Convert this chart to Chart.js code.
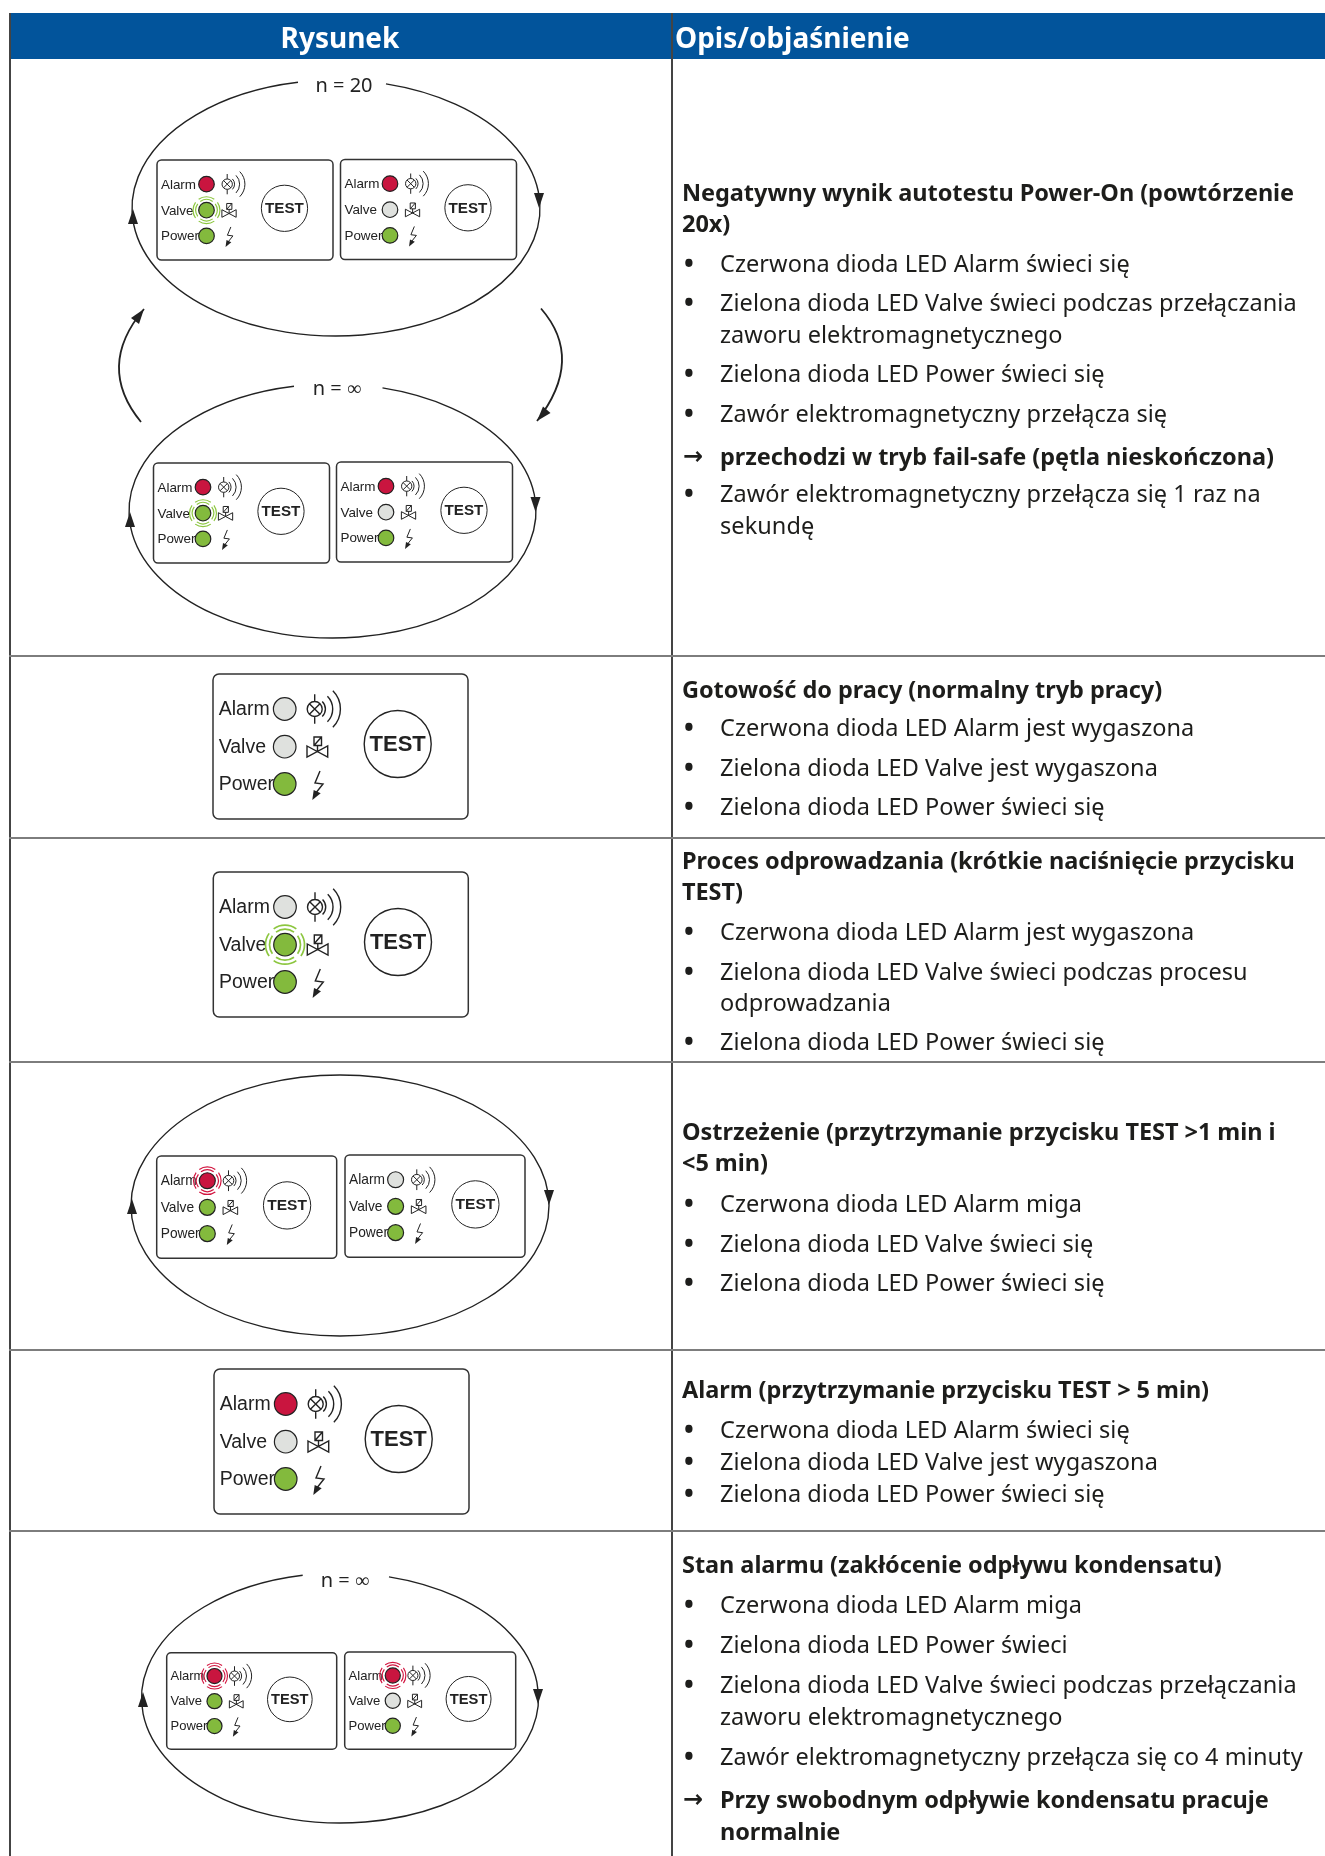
<!DOCTYPE html>
<html lang="pl">
<head>
<meta charset="utf-8">
<title>Rysunek - Opis</title>
<script src="https://cdn.jsdelivr.net/npm/chart.js@4"></script>
<style>
  html, body { margin: 0; padding: 0; background: #fff; }
  #page { position: relative; width: 1325px; height: 1856px; overflow: hidden; font-family: "Noto Sans", sans-serif; color: #1d1d1b; }
  #page canvas { position: absolute; left: 0; top: 0; }
  .bar { position: absolute; left: 9px; top: 13px; width: 1316px; height: 46px; background: #02549b; }
  .head { position: absolute; top: 15px; line-height: 44px; font-size: 28px; font-weight: 700; color: #fff; white-space: nowrap; }
  .rule { position: absolute; left: 9px; width: 1316px; height: 2px; background: #7d7d7d; }
  .vline { position: absolute; top: 13px; width: 1.5px; height: 1843px; background: #444; }
  .line { position: absolute; left: 720px; white-space: nowrap; font-size: 23.5px; line-height: 32px; letter-spacing: 0.06px; }
  .line.title { left: 682px; font-weight: 700; letter-spacing: -0.05px; }
  .line.arrow { font-weight: 700; letter-spacing: -0.05px; }
  .mark { position: absolute; left: 684px; line-height: 32px; font-size: 26px; font-weight: 700; }
  .mark.go { left: 683px; font-family: "DejaVu Sans", sans-serif; font-size: 24px; }
</style>
</head>
<body>
<div id="page">
  <div class="bar"></div>
  <div class="vline" style="left:9px"></div>
  <div class="vline" style="left:671px"></div>
  <canvas id="chart" width="1325" height="1856"></canvas>
</div>
<script>
// dane: naglowki, diody, stany paneli, opisy
var headers = ['Rysunek', 'Opis/objaśnienie'];
var ledNames = ['Alarm', 'Valve', 'Power'];
var buttonLabel = 'TEST';
var loopLabels = ['n = 20', 'n = ∞', 'n = ∞'];
var panelStates = [
  ['on', 'blink', 'on'], ['on', 'off', 'on'],
  ['on', 'blink', 'on'], ['on', 'off', 'on'],
  ['off', 'off', 'on'],
  ['off', 'blink', 'on'],
  ['blink', 'on', 'on'], ['off', 'on', 'on'],
  ['on', 'off', 'on'],
  ['blink', 'on', 'on'], ['blink', 'off', 'on']
];
var descTitles = [
  'Negatywny wynik autotestu Power-On (powtórzenie', '20x)',
  'Gotowość do pracy (normalny tryb pracy)',
  'Proces odprowadzania (krótkie naciśnięcie przycisku', 'TEST)',
  'Ostrzeżenie (przytrzymanie przycisku TEST >1 min i', '<5 min)',
  'Alarm (przytrzymanie przycisku TEST > 5 min)',
  'Stan alarmu (zakłócenie odpływu kondensatu)'
];
var descBullets = [
  'Czerwona dioda LED Alarm świeci się',
  'Zielona dioda LED Valve świeci podczas przełączania', 'zaworu elektromagnetycznego',
  'Zielona dioda LED Power świeci się',
  'Zawór elektromagnetyczny przełącza się',
  'Zawór elektromagnetyczny przełącza się 1 raz na', 'sekundę',
  'Czerwona dioda LED Alarm jest wygaszona',
  'Zielona dioda LED Valve jest wygaszona',
  'Zielona dioda LED Power świeci się',
  'Czerwona dioda LED Alarm jest wygaszona',
  'Zielona dioda LED Valve świeci podczas procesu', 'odprowadzania',
  'Zielona dioda LED Power świeci się',
  'Czerwona dioda LED Alarm miga',
  'Zielona dioda LED Valve świeci się',
  'Zielona dioda LED Power świeci się',
  'Czerwona dioda LED Alarm świeci się',
  'Zielona dioda LED Valve jest wygaszona',
  'Zielona dioda LED Power świeci się',
  'Czerwona dioda LED Alarm miga',
  'Zielona dioda LED Power świeci',
  'Zielona dioda LED Valve świeci podczas przełączania', 'zaworu elektromagnetycznego',
  'Zawór elektromagnetyczny przełącza się co 4 minuty'
];
var descArrows = [
  'przechodzi w tryb fail-safe (pętla nieskończona)',
  'Przy swobodnym odpływie kondensatu pracuje', 'normalnie'
];

// uklad strony
var titleMiddles = [192, 223, 689, 860, 891, 1131, 1162, 1389, 1564];
var bulletMiddles = [263, 302, 334, 373, 413, 493, 525, 727, 767, 806, 931, 971, 1002, 1041, 1203, 1243, 1282, 1429, 1461, 1493, 1604, 1644, 1684, 1716, 1756];
var continued = [334, 525, 1002, 1716];
var arrowMiddles = [456, 1799, 1831];
var arrowMarked = [456, 1799];
var ruleTops = [655, 837, 1061, 1349, 1530];
// panel: x, y, szerokosc
var panelBoxes = [
  [157, 160, 176], [340.5, 159.5, 176], [153.5, 463, 176], [336.5, 462, 176],
  [213, 674, 255], [213.3, 872, 255],
  [156.7, 1156, 180], [345, 1155, 180],
  [214, 1369, 255],
  [166.7, 1652.7, 170], [344.7, 1652, 171]
];
// petla: cx, cy, rx, ry, luka od, luka do, indeks etykiety, etykieta x, y
var loops = [
  [336, 208, 204, 128, 298, 386, 0, 344, 86],
  [332.5, 511, 203.5, 127, 294, 382.5, 1, 337, 389],
  [340, 1205.5, 209, 130.5, null, null, null, 0, 0],
  [340, 1698, 198.5, 125, 302.7, 389, 2, 345, 1581]
];
// grot: czubek x, y, kierunek x, y
var arrowHeads = [
  [539, 208, 0, 1], [133, 209, 0, -1],
  [535.5, 512, 0, 1], [130, 512, 0, -1],
  [549, 1205, 0, 1], [132, 1199, 0, -1],
  [538, 1704, 0, 1], [143, 1692, 0, -1],
  [144, 309, 0.6, -0.8], [537, 421, -0.65, 0.75]
];
// laczniki: start, punkt kontrolny, koniec
var connectors = [
  [141, 422, 95.5, 366.5, 144, 309],
  [541, 308.5, 585, 359, 537, 421]
];
var ledColors = { on: '#c9153f', off: '#dfe1de', green: '#83ba3d' };
var ringColors = { Alarm: '#d2143f', Valve: '#8cc63f' };
var baseWidth = 255;
var ledOffsetX = 71.7;
var ledOffsetsY = [35, 72.7, 110];

var page = document.getElementById('page');
function addDiv(cls, text, css) {
  var d = document.createElement('div');
  d.className = cls;
  d.textContent = text;
  d.style.cssText = css;
  page.appendChild(d);
}
addDiv('head', headers[0], 'left:340px;transform:translateX(-50%)');
addDiv('head', headers[1], 'left:675px');
ruleTops.forEach(function (y) { addDiv('rule', '', 'top:' + y + 'px'); });
titleMiddles.forEach(function (y, i) { addDiv('line title', descTitles[i], 'top:' + (y - 16) + 'px'); });
bulletMiddles.forEach(function (y, i) {
  addDiv('line', descBullets[i], 'top:' + (y - 16) + 'px');
  if (continued.indexOf(y) < 0) addDiv('mark', '•', 'top:' + (y - 16) + 'px');
});
arrowMiddles.forEach(function (y, i) {
  addDiv('line arrow', descArrows[i], 'top:' + (y - 16) + 'px');
  if (arrowMarked.indexOf(y) >= 0) addDiv('mark go', '→', 'top:' + (y - 16) + 'px');
});

// punkty LED z paneli
var ledPoints = [];
var ledFill = [];
var ledRadius = [];
var ledStates = [];
panelStates.forEach(function (states, p) {
  var box = panelBoxes[p];
  var s = box[2] / baseWidth;
  states.forEach(function (st, i) {
    ledPoints.push({ x: box[0] + ledOffsetX * s, y: box[1] + ledOffsetsY[i] * s });
    var col = st === 'off' ? ledColors.off : (i === 0 ? ledColors.on : ledColors.green);
    ledFill.push(col);
    ledRadius.push(11.3 * s);
    ledStates.push({ state: st, name: ledNames[i], s: s });
  });
});

var schematic = {
  id: 'schematic',
  beforeDatasetsDraw: function (chart) {
    var c = chart.ctx;
    var X = chart.scales.x, Y = chart.scales.y;
    function px(v) { return X.getPixelForValue(v); }
    function py(v) { return Y.getPixelForValue(v); }
    c.save();
    c.strokeStyle = '#222';
    c.fillStyle = '#222';

    // petle
    c.lineWidth = 1.4;
    loops.forEach(function (l) {
      c.beginPath();
      if (l[4] === null) {
        c.ellipse(px(l[0]), py(l[1]), l[2], l[3], 0, 0, Math.PI * 2);
      } else {
        var a1 = -Math.acos((l[5] - l[0]) / l[2]);
        var a2 = -Math.acos((l[4] - l[0]) / l[2]) + Math.PI * 2;
        c.ellipse(px(l[0]), py(l[1]), l[2], l[3], 0, a1, a2);
      }
      c.stroke();
      if (l[6] !== null) {
        c.font = '20px "Noto Sans"';
        c.textAlign = 'center';
        c.textBaseline = 'middle';
        c.fillText(loopLabels[l[6]], px(l[7]), py(l[8]));
      }
    });
    connectors.forEach(function (k) {
      c.lineWidth = 1.8;
      c.beginPath();
      c.moveTo(px(k[0]), py(k[1]));
      c.quadraticCurveTo(px(k[2]), py(k[3]), px(k[4]), py(k[5]));
      c.stroke();
    });
    arrowHeads.forEach(function (h) {
      var tx = px(h[0]), ty = py(h[1]);
      var len = 15, half = 5;
      c.beginPath();
      c.moveTo(tx, ty);
      c.lineTo(tx - h[2] * len - h[3] * half, ty - h[3] * len + h[2] * half);
      c.lineTo(tx - h[2] * len + h[3] * half, ty - h[3] * len - h[2] * half);
      c.closePath();
      c.fill();
    });

    // panele
    panelBoxes.forEach(function (box) {
      var s = box[2] / baseWidth;
      var x0 = px(box[0]), y0 = py(box[1]);
      function ax(v) { return x0 + v * s; }
      function ay(v) { return y0 + v * s; }

      c.lineWidth = 1.5;
      c.strokeStyle = '#333';
      c.beginPath();
      c.roundRect(x0, y0, box[2], box[2] * 0.5686, 5 * s + 1);
      c.stroke();

      c.fillStyle = '#222';
      c.textAlign = 'left';
      c.textBaseline = 'middle';
      c.font = (19.5 * s) + 'px "Liberation Sans"';
      ledNames.forEach(function (n, i) { c.fillText(n, ax(5.7), ay(ledOffsetsY[i] + 1)); });

      // lampa
      c.lineWidth = Math.max(1, 1.4 * s);
      c.strokeStyle = '#222';
      c.beginPath();
      c.arc(ax(101.7), ay(35), 7.5 * s, 0, Math.PI * 2);
      c.moveTo(ax(101.7), ay(20.3)); c.lineTo(ax(101.7), ay(27.5));
      c.moveTo(ax(101.7), ay(42.5)); c.lineTo(ax(101.7), ay(49.7));
      c.moveTo(ax(96.4), ay(29.7)); c.lineTo(ax(107), ay(40.3));
      c.moveTo(ax(107), ay(29.7)); c.lineTo(ax(96.4), ay(40.3));
      c.stroke();
      [10.7, 18, 25.7].forEach(function (r) {
        c.beginPath();
        c.arc(ax(101.7), ay(35), r * s, -Math.PI / 4, Math.PI / 4);
        c.stroke();
      });

      // zawor
      c.beginPath();
      c.rect(ax(101), ay(63), 7.5 * s, 8.5 * s);
      c.moveTo(ax(101), ay(71.5)); c.lineTo(ax(108.5), ay(63));
      c.moveTo(ax(104.5), ay(71.5)); c.lineTo(ax(104.5), ay(77.5));
      c.moveTo(ax(94), ay(72)); c.lineTo(ax(114.7), ay(83));
      c.lineTo(ax(114.7), ay(72)); c.lineTo(ax(94), ay(83)); c.closePath();
      c.stroke();

      // blyskawica
      c.beginPath();
      c.moveTo(ax(107), ay(97)); c.lineTo(ax(102), ay(109));
      c.lineTo(ax(110), ay(110)); c.lineTo(ax(102), ay(120));
      c.stroke();
      c.beginPath();
      c.moveTo(ax(99.3), ay(126)); c.lineTo(ax(100.7), ay(116)); c.lineTo(ax(107.7), ay(119.3));
      c.closePath();
      c.fill();

      // przycisk
      c.beginPath();
      c.arc(ax(184.7), ay(70), 33.5 * s, 0, Math.PI * 2);
      c.stroke();
      c.textAlign = 'center';
      c.font = 'bold ' + (22 * s) + 'px "Liberation Sans"';
      c.fillText(buttonLabel, ax(184.7), ay(71));
    });
    c.restore();
  },
  afterDatasetsDraw: function (chart) {
    // pierscienie migajacych diod
    var c = chart.ctx;
    var meta = chart.getDatasetMeta(0);
    c.save();
    ledStates.forEach(function (led, i) {
      if (led.state !== 'blink') return;
      var pt = meta.data[i];
      c.strokeStyle = ringColors[led.name];
      c.lineWidth = Math.max(1, 1.7 * led.s);
      [15.5, 19.5].forEach(function (r) {
        for (var q = 0; q < 4; q++) {
          var mid = q * Math.PI / 2;
          c.beginPath();
          c.arc(pt.x, pt.y, r * led.s, mid - 0.62, mid + 0.62);
          c.stroke();
        }
      });
    });
    c.restore();
  }
};

new Chart(document.getElementById('chart').getContext('2d'), {
  type: 'scatter',
  data: {
    datasets: [{
      label: 'LED',
      data: ledPoints,
      pointBackgroundColor: ledFill,
      pointBorderColor: '#222',
      pointBorderWidth: 1.2,
      pointRadius: ledRadius,
      pointHoverRadius: ledRadius
    }]
  },
  options: {
    responsive: false,
    animation: false,
    events: [],
    layout: { padding: 0, autoPadding: false },
    plugins: { legend: { display: false }, tooltip: { enabled: false }, title: { display: false } },
    scales: {
      x: { type: 'linear', min: 0, max: 1325, display: false },
      y: { type: 'linear', min: 0, max: 1856, reverse: true, display: false }
    }
  },
  plugins: [schematic]
});
</script>
</body>
</html>
